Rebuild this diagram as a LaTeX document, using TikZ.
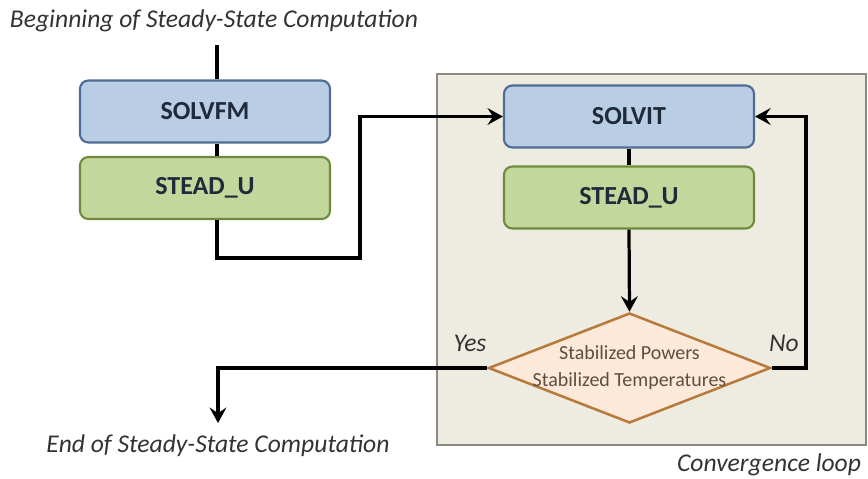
\documentclass[tikz,border=0pt]{standalone}
\usepackage{fontspec}
\setmainfont{Carlito}
\usetikzlibrary{arrows.meta,shapes.geometric}

\definecolor{loopfill}{HTML}{EEECE1}
\definecolor{loopdraw}{HTML}{8A8A80}
\definecolor{solvfill}{HTML}{B9CDE5}
\definecolor{solvdraw}{HTML}{4F6D94}
\definecolor{steadfill}{HTML}{C3D69B}
\definecolor{steaddraw}{HTML}{6E8B3D}
\definecolor{testfill}{HTML}{FDE9D9}
\definecolor{testdraw}{HTML}{B87A3C}
\definecolor{boxtext}{HTML}{1F2A3A}
\definecolor{testtext}{HTML}{5E4E40}
\definecolor{notetext}{HTML}{333333}

\tikzset{
  block/.style={rectangle,rounded corners=6pt,line width=1.5pt,
    minimum width=6.25cm,minimum height=1.55cm,inner sep=0pt,
    text=boxtext,font=\bfseries\fontsize{18.5}{20}\selectfont},
  solvbox/.style={block,fill=solvfill,draw=solvdraw},
  steadbox/.style={block,fill=steadfill,draw=steaddraw},
  testbox/.style={diamond,fill=testfill,draw=testdraw,line width=1.8pt,
    aspect=2.54,inner xsep=-8pt,inner ysep=-3pt,
    minimum width=7.05cm,minimum height=2.75cm,
    align=center,text=testtext,font=\fontsize{14.2}{19}\selectfont},
  note/.style={text=notetext,font=\itshape\fontsize{18.2}{20}\selectfont},
  flow/.style={line width=2.3pt,-{Stealth[length=11pt,width=12pt,inset=4pt]}},
  link/.style={line width=2.3pt}
}

\begin{document}
\begin{tikzpicture}[x=0.025cm,y=-0.025cm]
\useasboundingbox (0,0) rectangle (868,479);
% convergence loop frame
\draw[fill=loopfill,draw=loopdraw,line width=1.2pt] (437,74) rectangle (866,445);

% texts outside the boxes
\node[note] (begin) at (214,21) {Beginning of Steady-State Computation};
\node[note] (finish) at (218,446) {End of Steady-State Computation};
\node[note,anchor=east] (conv) at (866,465) {Convergence loop};
\node[note] (yes) at (470,343) {Yes};
\node[note] (no) at (784,343) {No};

% blocks
\node[solvbox] (solvfm) at (205,111.5) {SOLVFM};
\node[steadbox] (steadA) at (205,188) {STEAD\_U};
\node[solvbox] (solvit) at (629,116.5) {SOLVIT};
\node[steadbox] (steadB) at (629,197.5) {STEAD\_U};
\node[testbox] (test) at (629.5,368) {Stabilized Powers\\Stabilized Temperatures};

\coordinate (start) at (217,45);
\coordinate (stop) at (218,423);

% connectors
\draw[link] (start) -- (start |- solvfm.north);
\draw[link] (start |- solvfm.south) -- (start |- steadA.north);
\draw[flow] (start |- steadA.south) |- (360,258) |- (solvit.west);
\draw[link] (solvit.south) -- (steadB.north);
\draw[flow] (steadB.south) -- (test.north);
\draw[flow] (test.west) -| (stop);
\draw[flow] (test.east) -| (806,250) |- (solvit.east);
\end{tikzpicture}
\end{document}
